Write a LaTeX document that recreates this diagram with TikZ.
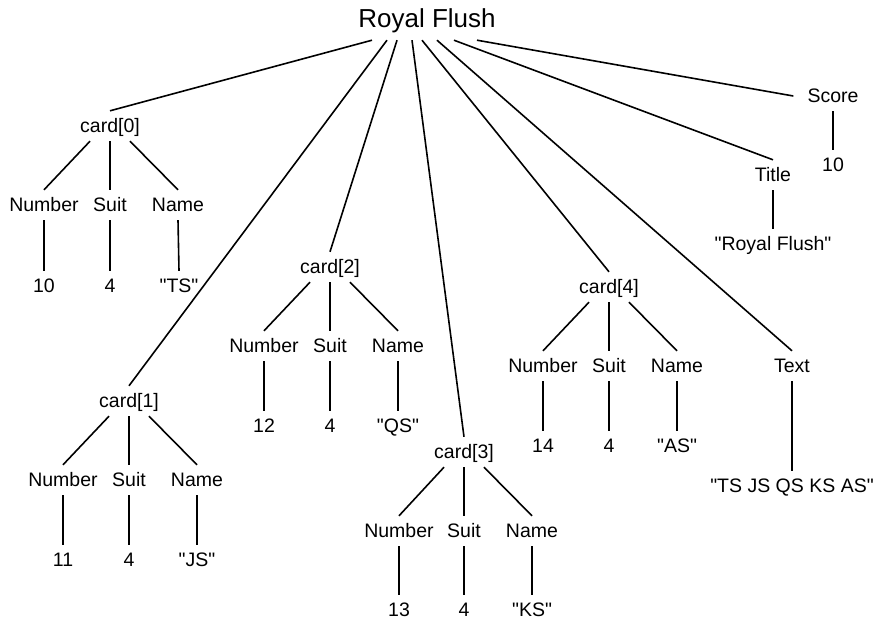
\documentclass[tikz,border=0pt]{standalone}
\usepackage{fontspec}
\setmainfont{Liberation Sans}[Ligatures=TeXOff]
\begin{document}
\begin{tikzpicture}[x=1pt,y=-1pt,
  lbl/.style={anchor=base,inner xsep=5pt,inner ysep=5pt,text height=16pt,text depth=4pt,
    font=\fontsize{19.5}{22}\selectfont},
  rootlbl/.style={anchor=base,inner xsep=5pt,inner ysep=7pt,text height=19pt,text depth=6pt,
    font=\fontsize{26}{30}\selectfont},
  edge/.style={line width=1.6pt,black}]
\useasboundingbox (0,0) rectangle (878,619);

\node[rootlbl] (root) at (427,27) {Royal Flush};

% card[0]
\node[lbl] (c0) at (110,132) {card[0]};
\node[lbl] (c0n) at (44,211) {Number};
\node[lbl] (c0s) at (110,211) {Suit};
\node[lbl] (c0m) at (178,211) {Name};
\node[lbl] (v0n) at (44,292) {10};
\node[lbl] (v0s) at (110,292) {4};
\node[lbl] (v0m) at (179,292) {"TS"};

% card[1]
\node[lbl] (c1) at (129,407) {card[1]};
\node[lbl] (c1n) at (63,486) {Number};
\node[lbl] (c1s) at (129,486) {Suit};
\node[lbl] (c1m) at (197,486) {Name};
\node[lbl] (v1n) at (63,566) {11};
\node[lbl] (v1s) at (129,566) {4};
\node[lbl] (v1m) at (197,566) {"JS"};

% card[2]
\node[lbl] (c2) at (330,273) {card[2]};
\node[lbl] (c2n) at (264,352) {Number};
\node[lbl] (c2s) at (330,352) {Suit};
\node[lbl] (c2m) at (398,352) {Name};
\node[lbl] (v2n) at (264,432) {12};
\node[lbl] (v2s) at (330,432) {4};
\node[lbl] (v2m) at (398,432) {"QS"};

% card[3]
\node[lbl] (c3) at (464,458) {card[3]};
\node[lbl] (c3n) at (399,537) {Number};
\node[lbl] (c3s) at (464,537) {Suit};
\node[lbl] (c3m) at (532,537) {Name};
\node[lbl] (v3n) at (399,616) {13};
\node[lbl] (v3s) at (464,616) {4};
\node[lbl] (v3m) at (532,616) {"KS"};

% card[4]
\node[lbl] (c4) at (609,293) {card[4]};
\node[lbl] (c4n) at (543,372) {Number};
\node[lbl] (c4s) at (609,372) {Suit};
\node[lbl] (c4m) at (677,372) {Name};
\node[lbl] (v4n) at (543,452) {14};
\node[lbl] (v4s) at (609,452) {4};
\node[lbl] (v4m) at (677,452) {"AS"};

% Text, Title, Score
\node[lbl] (text) at (792,372) {Text};
\node[lbl] (vtext) at (792,492) {"TS JS QS KS AS"};
\node[lbl] (title) at (773,181) {Title};
\node[lbl] (vtitle) at (773,250) {"Royal Flush"};
\node[lbl] (score) at (833,102) {Score};
\node[lbl] (vscore) at (833,171) {10};

% root edges
\draw[edge] ([xshift=-55pt]root.south) -- (c0.north);
\draw[edge] ([xshift=-40pt]root.south) -- (c1.north);
\draw[edge] ([xshift=-30pt]root.south) -- (c2.north);
\draw[edge] ([xshift=-15pt]root.south) -- (c3.north);
\draw[edge] ([xshift=-5pt]root.south) -- (c4.north);
\draw[edge] ([xshift=10pt]root.south) -- (text.north);
\draw[edge] ([xshift=27pt]root.south) -- (title.north);
\draw[edge] ([xshift=50pt]root.south) -- ([xshift=-9pt]score.west);

% card edges
\foreach \c in {0,1,2,3,4}{
  \draw[edge] ([xshift=-20pt]c\c.south) -- (c\c n.north);
  \draw[edge] (c\c.south) -- (c\c s.north);
  \draw[edge] ([xshift=20pt]c\c.south) -- (c\c m.north);
  \draw[edge] (c\c n.south) -- (v\c n.north);
  \draw[edge] (c\c s.south) -- (v\c s.north);
  \draw[edge] (c\c m.south) -- (v\c m.north);
}
\draw[edge] (text.south) -- (vtext.north);
\draw[edge] (title.south) -- (vtitle.north);
\draw[edge] (score.south) -- (vscore.north);
\end{tikzpicture}
\end{document}
